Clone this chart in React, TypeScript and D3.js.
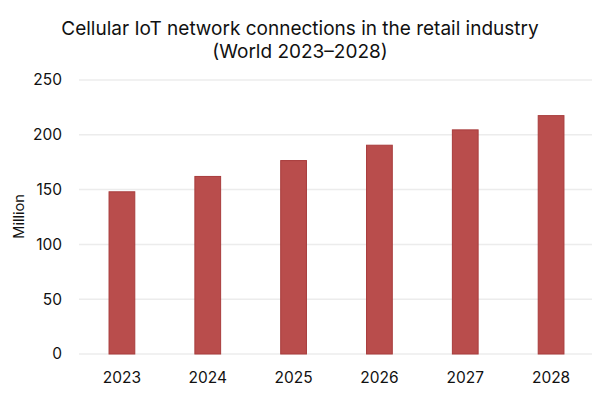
import React from "react";
import * as d3 from "d3";

const years = ["2023", "2024", "2025", "2026", "2027", "2028"];
const connections = [148, 162, 176.5, 190.5, 204.5, 217.5];
const yTicks = [0, 50, 100, 150, 200, 250];
const titleLines = ["Cellular IoT network connections in the retail industry", "(World 2023–2028)"];
const yLabel = "Million";

export default function App() {
  const width = 600;
  const height = 400;
  const left = 79;
  const right = 594;
  const top = 80;
  const bottom = 354;
  const x = d3.scaleBand<string>().domain(years).range([left, right]).paddingInner(0.7).paddingOuter(0.35);
  const y = d3.scaleLinear().domain([0, 250]).range([bottom, top]);
  const font = "Inter, 'Noto Sans', sans-serif";
  return (
    <svg width={width} height={height} style={{ position: "absolute", left: 0, top: 0, background: "#fff" }} fontFamily={font}>
      {titleLines.map((t, i) => (
        <text key={i} x={300} y={34.5 + i * 23.5} textAnchor="middle" fontSize={19} fill="#111">
          {t}
        </text>
      ))}
      {yTicks.map((t) => (
        <g key={t}>
          <line x1={left} x2={592} y1={y(t)} y2={y(t)} stroke="#ececec" strokeWidth={1.5} />
          <text x={62} y={y(t)} dy="0.35em" textAnchor="end" fontSize={15.5} fill="#111">
            {t}
          </text>
        </g>
      ))}
      {years.map((yr, i) => (
        <rect
          key={yr}
          x={x(yr)!}
          y={y(connections[i])}
          width={x.bandwidth()}
          height={y(0) - y(connections[i])}
          fill="#b94d4c"
          stroke="#a83c3c"
          strokeWidth={1}
        />
      ))}
      {years.map((yr) => (
        <text key={yr} x={x(yr)! + x.bandwidth() / 2} y={383} textAnchor="middle" fontSize={15.5} fill="#111">
          {yr}
        </text>
      ))}
      <text transform={`translate(24,216.5) rotate(-90)`} textAnchor="middle" fontSize={14.5} fill="#111">
        {yLabel}
      </text>
    </svg>
  );
}
